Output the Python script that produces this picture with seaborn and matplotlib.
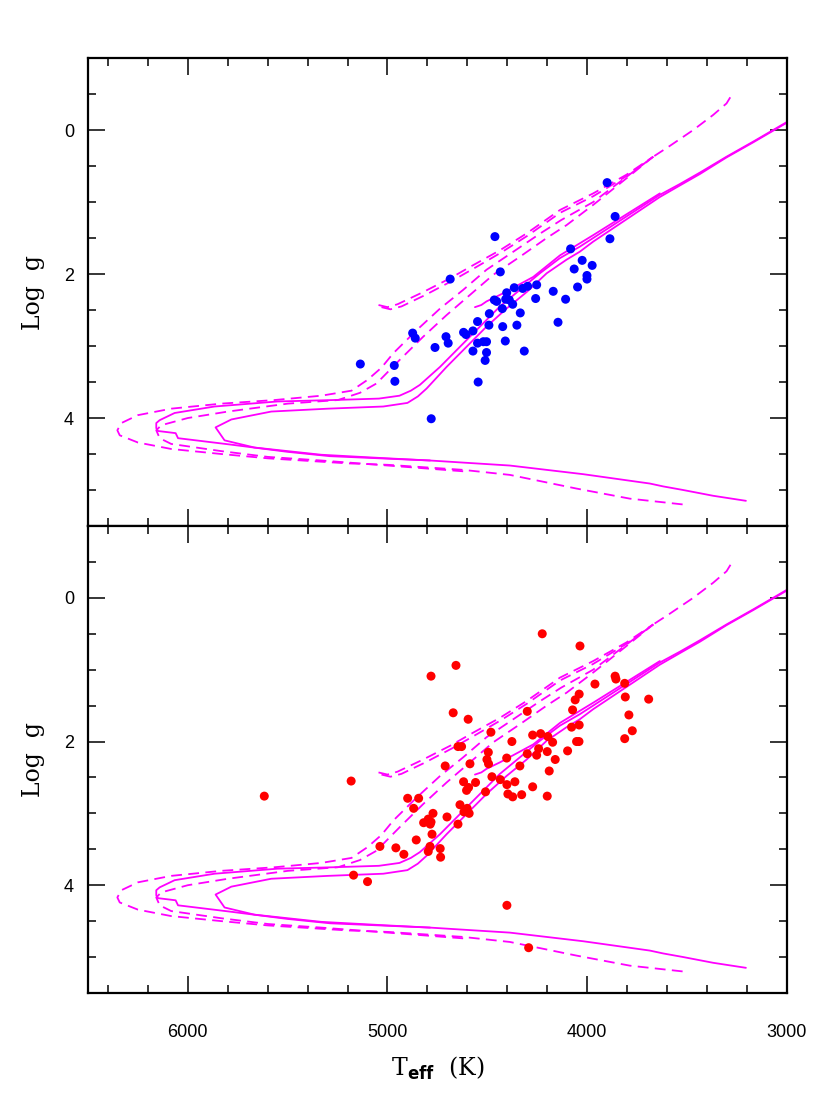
import matplotlib
matplotlib.use("Agg")
import matplotlib.pyplot as plt
from matplotlib.ticker import MultipleLocator
import seaborn as sns

# observed stars (Teff in K, log g)
blue_teff = [3900, 3860, 3886, 4462, 4083, 4025, 4065, 3975, 4001, 4001,
             4048, 4435, 4686, 4365, 4323, 4298, 4253, 4170, 4108, 4258,
             4403, 4465, 4453, 4408, 4390, 4425, 4373, 4490, 4335, 4549,
             4492, 4423, 4352, 4146, 4874, 4861, 4707, 4696, 4619, 4607,
             4572, 4762, 4549, 4520, 4504, 4410, 4572, 4504, 4315, 4511,
             5136, 4966, 4963, 4546, 4781]
blue_logg = [0.73, 1.20, 1.51, 1.48, 1.65, 1.81, 1.93, 1.88, 2.02, 2.07,
             2.18, 1.97, 2.07, 2.19, 2.20, 2.17, 2.15, 2.24, 2.35, 2.34,
             2.26, 2.36, 2.38, 2.35, 2.36, 2.48, 2.42, 2.55, 2.54, 2.66,
             2.71, 2.73, 2.71, 2.67, 2.82, 2.89, 2.87, 2.96, 2.81, 2.84,
             2.79, 3.02, 2.96, 2.94, 2.94, 2.93, 3.07, 3.09, 3.07, 3.20,
             3.25, 3.27, 3.49, 3.50, 4.01]

red_teff = [4657, 4782, 4671, 4596, 4300, 4482, 4377, 4273, 4647, 4629,
            4495, 4502, 4494, 4403, 4300, 4337, 4587, 4711, 4477, 4435,
            4402, 4362, 4273, 4619, 4559, 4594, 4604, 4509, 4397, 4373,
            4328, 5182, 5617, 4899, 4844, 4869, 4637, 4601, 4591, 4617,
            4772, 4702, 4819, 4796, 4786, 4782, 4647, 4777, 4856, 5038,
            4958, 4918, 4796, 4787, 4736, 4734, 5170, 5100, 4402, 4293,
            4225, 4036, 3860, 3856, 3812, 3961, 3692, 3809, 4040, 4060,
            4073, 3791, 3774, 3812, 4040, 4078, 4053, 4041, 4233, 4197,
            4173, 4098, 4253, 4243, 4200, 4160, 4190, 4200]
red_logg = [0.94, 1.09, 1.60, 1.69, 1.58, 1.87, 2.00, 1.91, 2.07, 2.07,
            2.15, 2.25, 2.31, 2.23, 2.17, 2.34, 2.31, 2.34, 2.49, 2.53,
            2.60, 2.56, 2.63, 2.56, 2.57, 2.64, 2.68, 2.70, 2.73, 2.77,
            2.74, 2.55, 2.76, 2.79, 2.79, 2.93, 2.88, 2.93, 3.00, 2.98,
            3.00, 3.05, 3.13, 3.08, 3.15, 3.12, 3.15, 3.29, 3.37, 3.46,
            3.48, 3.57, 3.53, 3.46, 3.49, 3.61, 3.86, 3.95, 4.28, 4.87,
            0.50, 0.67, 1.09, 1.13, 1.19, 1.20, 1.41, 1.38, 1.34, 1.42,
            1.56, 1.63, 1.85, 1.96, 1.77, 1.80, 2.00, 2.00, 1.89, 1.93,
            2.01, 2.13, 2.19, 2.10, 2.14, 2.25, 2.41, 2.76]

# isochrones, solid
iso_a_teff = [3205, 3369, 3519, 3619, 3686, 4020, 4387, 4787, 5288, 5499,
              5782, 6049, 6061, 6150, 6158, 6158, 6141, 6066, 5866, 5550,
              5270, 5043, 4940, 4883, 4838, 4737, 4637, 4537, 4437, 4337,
              4237, 4137, 4037, 3970, 3803, 3636, 3536, 3435, 3302, 3168,
              3001, 2900]
iso_a_logg = [5.15, 5.08, 5.00, 4.95, 4.91, 4.78, 4.66, 4.59, 4.53, 4.47,
              4.37, 4.28, 4.21, 4.18, 4.14, 4.07, 4.03, 3.93, 3.84, 3.77,
              3.75, 3.73, 3.69, 3.62, 3.54, 3.29, 3.01, 2.73, 2.45, 2.22,
              1.99, 1.78, 1.62, 1.50, 1.20, 0.90, 0.75, 0.59, 0.37, 0.16,
              -0.11, -0.27]

iso_b_teff = [4787, 5000, 5332, 5666, 5816, 5861, 5782, 5582, 5298, 5021,
              4900, 4848, 4804, 4704, 4604, 4504, 4404, 4303, 4203, 4103,
              4037, 3970, 3803, 3636, 3536, 3435, 3302, 3168, 3001, 2900]
iso_b_logg = [4.59, 4.56, 4.51, 4.41, 4.31, 4.13, 4.02, 3.91, 3.87, 3.84,
              3.79, 3.70, 3.59, 3.29, 3.01, 2.73, 2.48, 2.25, 1.99, 1.80,
              1.69, 1.55, 1.24, 0.93, 0.77, 0.61, 0.38, 0.17, -0.10, -0.26]

hb_solid_teff = [4562, 4530, 4504, 4437, 4270, 4136, 3970, 3803, 3636]
hb_solid_logg = [2.46, 2.43, 2.38, 2.29, 2.04, 1.74, 1.46, 1.17, 0.88]

# isochrones, dashed
iso_c_teff = [3522, 3786, 4053, 4387, 4621, 4998, 5198, 5599, 5832, 6083,
              6250, 6341, 6353, 6333, 6250, 6083, 5832, 5565, 5332, 5180,
              5100, 5030, 4971, 4854, 4737, 4621, 4504, 4370, 4237, 4130,
              3970, 3803, 3669, 3586, 3469, 3369, 3302, 3269]
iso_c_logg = [5.20, 5.12, 4.98, 4.79, 4.72, 4.65, 4.63, 4.56, 4.50, 4.43,
              4.34, 4.24, 4.17, 4.07, 3.96, 3.87, 3.80, 3.75, 3.69, 3.62,
              3.47, 3.30, 3.10, 2.78, 2.48, 2.22, 1.94, 1.69, 1.44, 1.25,
              1.00, 0.65, 0.37, 0.22, 0.00, -0.21, -0.37, -0.52]

iso_d_teff = [4621, 4998, 5332, 5599, 5832, 6083, 6141, 6158, 6133, 6000,
              5799, 5499, 5248, 5138, 5055, 4938, 4821, 4704, 4587, 4470,
              4337, 4203, 4103, 3970, 3803, 3669]
iso_d_logg = [4.74, 4.66, 4.59, 4.54, 4.46, 4.36, 4.28, 4.17, 4.10, 4.00,
              3.91, 3.80, 3.75, 3.65, 3.52, 3.19, 2.87, 2.57, 2.29, 2.01,
              1.76, 1.50, 1.32, 1.04, 0.67, 0.37]

hb1_teff = [5045, 5000, 4950, 4821, 4687, 4570, 4437, 4303, 4136, 3970,
            3803, 3669]
hb1_logg = [2.43, 2.46, 2.42, 2.25, 2.06, 1.875, 1.67, 1.435, 1.11, 0.88,
            0.62, 0.37]
hb2_teff = [5030, 4985, 4930, 4810, 4680, 4560, 4430, 4300, 4136, 3970,
            3803, 3669]
hb2_logg = [2.46, 2.49, 2.45, 2.29, 2.10, 1.91, 1.70, 1.47, 1.15, 0.92,
            0.64, 0.37]

solid_curves = [(iso_a_teff, iso_a_logg), (iso_b_teff, iso_b_logg),
                (hb_solid_teff, hb_solid_logg)]
dashed_curves = [(iso_c_teff, iso_c_logg), (iso_d_teff, iso_d_logg),
                 (hb1_teff, hb1_logg), (hb2_teff, hb2_logg)]

sns.set_style("ticks")
plt.rcParams["font.family"] = ["Liberation Sans", "DejaVu Sans"]
plt.rcParams["mathtext.fontset"] = "dejavusans"
plt.rcParams["text.color"] = "black"
plt.rcParams["axes.labelcolor"] = "black"
plt.rcParams["xtick.color"] = "black"
plt.rcParams["ytick.color"] = "black"

fig = plt.figure(figsize=(8.3, 11.06), dpi=100)
ax_top = fig.add_axes([0.106, 0.5244, 0.842, 0.4231])
ax_bot = fig.add_axes([0.106, 0.1022, 0.842, 0.4222])

panels = [(ax_top, blue_teff, blue_logg, "#0000ff"),
          (ax_bot, red_teff, red_logg, "#ff0000")]

for ax, teff, logg, col in panels:
    for t, g in solid_curves:
        sns.lineplot(x=t, y=g, sort=False, estimator=None, color="#ff00ff",
                     lw=1.3, ax=ax, legend=False)
    for t, g in dashed_curves:
        sns.lineplot(x=t, y=g, sort=False, estimator=None, color="#ff00ff",
                     lw=1.3, linestyle=(0, (6, 3.5)), ax=ax, legend=False)
    sns.scatterplot(x=teff, y=logg, color=col, s=42, edgecolor="none",
                    ax=ax, zorder=3, legend=False)

    ax.set_xlim(6500, 3000)
    ax.set_ylim(5.5, -1)
    ax.xaxis.set_major_locator(MultipleLocator(1000))
    ax.xaxis.set_minor_locator(MultipleLocator(200))
    ax.yaxis.set_major_locator(MultipleLocator(2))
    ax.yaxis.set_minor_locator(MultipleLocator(0.5))
    ax.tick_params(which="both", direction="in", top=True, right=True,
                   width=1.1, color="black", labelcolor="black")
    ax.tick_params(which="major", length=12)
    ax.tick_params(which="minor", length=6)
    ax.tick_params(axis="y", labelsize=13, pad=10)
    ax.tick_params(axis="x", labelsize=13, pad=22)
    for sp in ax.spines.values():
        sp.set_linewidth(1.6)
        sp.set_color("black")
    ax.set_ylabel("Log  g", fontfamily="DejaVu Serif", fontsize=17,
                  labelpad=14, color="black")
    ax.set_xlabel("")

ax_top.tick_params(axis="x", labelbottom=False)
ax_bot.set_xlabel(r"T$_{\bf eff}$  (K)", fontfamily="DejaVu Serif",
                  fontsize=17, labelpad=10, color="black")

plt.savefig("out.png", dpi=100)
